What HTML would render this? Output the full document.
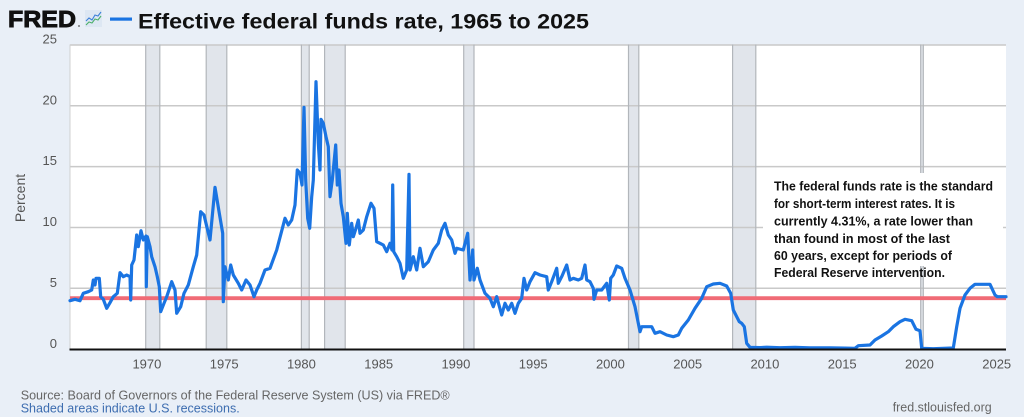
<!DOCTYPE html>
<html>
<head>
<meta charset="utf-8">
<style>
html,body{margin:0;padding:0;background:#e9eff7;}
body{width:1024px;height:417px;overflow:hidden;}
svg{display:block;}
</style>
</head>
<body>
<svg width="1024" height="417" viewBox="0 0 1024 417" xmlns="http://www.w3.org/2000/svg">
  <rect x="0" y="0" width="1024" height="417" fill="#e9eff7"/>

  <!-- Header -->
  <text x="8" y="27" font-family="Liberation Sans, sans-serif" font-weight="bold" font-size="23" fill="#111" stroke="#111" stroke-width="0.9" textLength="68" lengthAdjust="spacingAndGlyphs">FRED</text>
  <circle cx="79" cy="26" r="0.9" fill="#555"/>
  <rect x="85" y="10" width="17" height="17" fill="#dde7f3"/>
  <polyline points="86,21 89,18 92,20 95,15 98,16 101,12" fill="none" stroke="#3b7fd9" stroke-width="1.1"/>
  <polyline points="86,25 89,22 92,23 95,19 98,20 101,16" fill="none" stroke="#4caf6a" stroke-width="1.1"/>
  <rect x="110" y="17.5" width="22" height="3.2" fill="#1a74e2"/>
  <text x="138" y="28.5" font-family="Liberation Sans, sans-serif" font-weight="bold" font-size="21" fill="#111" textLength="451" lengthAdjust="spacingAndGlyphs">Effective federal funds rate, 1965 to 2025</text>

  <!-- Plot area -->
  <rect x="70" y="44.5" width="936" height="305" fill="#ffffff"/>

  <!-- Recession shading -->
  <g fill="#e1e5eb">
    <rect x="145.7" y="44.5" width="14.1" height="305"/>
    <rect x="206.2" y="44.5" width="20.6" height="305"/>
    <rect x="301.4" y="44.5" width="7.8" height="305"/>
    <rect x="324.6" y="44.5" width="20.6" height="305"/>
    <rect x="463.7" y="44.5" width="10.3" height="305"/>
    <rect x="628.5" y="44.5" width="10.3" height="305"/>
    <rect x="732.6" y="44.5" width="23.2" height="305"/>
    <rect x="920.7" y="44.5" width="2.6" height="305"/>
  </g>

  <!-- Grid lines -->
  <g stroke="#c9c9c9" stroke-width="1.5">
    <line x1="70" y1="45" x2="1006" y2="45"/>
    <line x1="70" y1="105.8" x2="1006" y2="105.8"/>
    <line x1="70" y1="166.6" x2="1006" y2="166.6"/>
    <line x1="70" y1="227.5" x2="1006" y2="227.5"/>
    <line x1="70" y1="288.3" x2="1006" y2="288.3"/>
  </g>

  <!-- Recession borders -->
  <g stroke="#b2b6bb" stroke-width="1.2">
    <line x1="145.7" y1="44.5" x2="145.7" y2="349"/><line x1="159.8" y1="44.5" x2="159.8" y2="349"/>
    <line x1="206.2" y1="44.5" x2="206.2" y2="349"/><line x1="226.8" y1="44.5" x2="226.8" y2="349"/>
    <line x1="301.4" y1="44.5" x2="301.4" y2="349"/><line x1="309.2" y1="44.5" x2="309.2" y2="349"/>
    <line x1="324.6" y1="44.5" x2="324.6" y2="349"/><line x1="345.2" y1="44.5" x2="345.2" y2="349"/>
    <line x1="463.7" y1="44.5" x2="463.7" y2="349"/><line x1="474" y1="44.5" x2="474" y2="349"/>
    <line x1="628.5" y1="44.5" x2="628.5" y2="349"/><line x1="638.8" y1="44.5" x2="638.8" y2="349"/>
    <line x1="732.6" y1="44.5" x2="732.6" y2="349"/><line x1="755.8" y1="44.5" x2="755.8" y2="349"/>
    <line x1="920.7" y1="44.5" x2="920.7" y2="349"/><line x1="923.3" y1="44.5" x2="923.3" y2="349"/>
  </g>
  <line x1="70" y1="44.5" x2="70" y2="349" stroke="#d0d0d0" stroke-width="1"/>

  <!-- Annotation box background -->
  <rect x="763" y="173" width="240" height="93" fill="#ffffff"/>

  <!-- Red reference line -->
  <line x1="70" y1="298.2" x2="1006" y2="298.2" stroke="#f06b76" stroke-width="3.8"/>

  <!-- Series -->
  <polyline fill="none" stroke="#1a74e2" stroke-width="3.2" stroke-linejoin="round" stroke-linecap="round" points="
70,300.7 75,299.3 80,300.7 83.3,293.3 88.3,291.7 91.7,290 93.3,280 95,285 96,278.3 99.3,278.3 100.7,296.7 103.3,299.3 106.7,308.3 110,302.7 113.3,296.7 117.3,293.3 120,272.7 123.3,276.7 126.7,275 130,276.7 130.7,300 131.7,265 134,260 136.7,235 138.3,246.7 141,230.7 143.3,240 146,236 146.3,286.7 147.3,236.7 150,246.7 151.7,256.7 155,266.7 157.3,276.7 159.3,286.7 160.7,311.7 164,303.3 166.7,296.7 171.7,281.7 175,290 176.7,313.3 180.7,306.7 184,293.3 188.3,285 193.3,266.7 196.7,255 200.7,211.7 204,215 210,240 215,187.3 219.3,213.3 222.7,233.3 223.3,301.7 225,266.7 228.3,280 230.7,265 233.3,275 238.3,283.3 241.7,290 246,280 250,285 254,296.7 256.7,290 260,283.3 265,270 270,268.3 276.7,250 285,218.3 288.3,225 291.7,220 295,205 297.3,170 300,173.3 302,185 304,107.3 305.7,180 307.7,218.3 309.7,228.3 311.7,196.7 313.3,180 316,81.7 318.3,143.3 320,170 321,119.3 323.3,123.3 326,136.7 328.3,146.7 330,196.7 332.3,180 335.7,145 337.3,185 339,170 341,203.3 343.3,216.7 346,243.3 347.3,213.3 349.3,245 351.7,223.3 353.3,236.7 356,228.3 358.3,220 360,233.3 363.3,230 366.7,216.7 371,203.3 374,208.3 376.7,241.7 383.3,245 386.7,251.7 390,243.3 392,250 392.7,185 393.7,251.7 396.7,256.7 400,263.3 403.3,278.3 406.7,270 409,174.3 410,270 413.3,256.7 416.7,270 420,248.3 423.3,266.7 428.3,261.7 433.3,250 438.3,243.3 441.7,230 445,223.3 448.3,235 451.7,240 455,253.3 456.7,248.3 463.3,250 467.7,233.3 470,280 472.7,250 474,280 477.3,268.3 480,280 485,293.3 490,298.3 493.3,306.7 496.7,296.7 501.7,315 505,303.3 508.3,310 511.7,303.3 515,313.3 518.3,303.3 521.7,298.3 524,278.3 526.7,290 530,281.7 535,272.7 540,275 546.7,276.7 548.3,290 551.7,281.7 556.7,268.3 558.3,283.3 561.7,276.7 566.7,265 570,280 573.3,278.3 578.3,280 581.7,278.3 585,265 586.7,280 590,281.7 593.3,288.3 594,299.3 596.7,290 601.7,290 606.7,283.3 609.3,300 610.7,278.3 613.3,275 616.7,266 621.7,268.3 625,278.3 630,290 635,306.7 640,331.7 641.7,326.7 651.7,326.7 655,333.3 660,331.7 666.7,335 673.3,336.7 678.3,335 681.7,328.3 688.3,320 695,308.3 701.7,298.3 706.7,286.7 713.3,284 720,283.3 726.7,286 730.7,293.3 733.3,310 736.7,316.7 739.3,321.7 741.7,323.3 744.3,326.7 746.7,343.3 750,347.3 760,347.6 766.7,347.2 780,347.7 795,347.4 810,347.9 830,347.8 845,348.1 855,348.3 858.3,345.7 870,345 875,340 881.7,336 888.3,331.7 893.3,326.7 900,321.7 905,319.3 911.7,320.7 916,329.3 920,330.7 921.7,348.3 933.3,348.7 953.3,348 956.7,326.7 960,308.3 965,295 970,288.3 975,284.3 990,284.3 995,295 997.3,296.7 1006,296.7"/>

  <!-- Zero axis -->
  <line x1="69.5" y1="349.5" x2="1006" y2="349.5" stroke="#111" stroke-width="2"/>

  <!-- Annotation text -->
  <g font-family="Liberation Sans, sans-serif" font-weight="bold" font-size="12.5" fill="#111">
    <text x="774" y="190.7" textLength="219" lengthAdjust="spacingAndGlyphs">The federal funds rate is the standard</text>
    <text x="774" y="208.2" textLength="181" lengthAdjust="spacingAndGlyphs">for short-term interest rates. It is</text>
    <text x="774" y="225.7" textLength="199" lengthAdjust="spacingAndGlyphs">currently 4.31%, a rate lower than</text>
    <text x="774" y="243" textLength="176" lengthAdjust="spacingAndGlyphs">than found in most of the last</text>
    <text x="774" y="260.2" textLength="178" lengthAdjust="spacingAndGlyphs">60 years, except for periods of</text>
    <text x="774" y="277.2" textLength="171" lengthAdjust="spacingAndGlyphs">Federal Reserve intervention.</text>
  </g>

  <!-- Y axis labels -->
  <g font-family="Liberation Sans, sans-serif" font-size="13" fill="#555" text-anchor="end">
    <text x="57" y="43.5">25</text>
    <text x="57" y="104.3">20</text>
    <text x="57" y="165.1">15</text>
    <text x="57" y="226">10</text>
    <text x="57" y="286.8">5</text>
    <text x="57" y="348">0</text>
  </g>
  <text transform="translate(25,198) rotate(-90)" font-family="Liberation Sans, sans-serif" font-size="14" fill="#555" text-anchor="middle">Percent</text>

  <!-- X axis labels -->
  <g font-family="Liberation Sans, sans-serif" font-size="13" fill="#555" text-anchor="middle">
    <text x="146.9" y="368.3">1970</text>
    <text x="224.2" y="368.3">1975</text>
    <text x="301.4" y="368.3">1980</text>
    <text x="378.7" y="368.3">1985</text>
    <text x="455.9" y="368.3">1990</text>
    <text x="533.2" y="368.3">1995</text>
    <text x="610.4" y="368.3">2000</text>
    <text x="687.7" y="368.3">2005</text>
    <text x="764.9" y="368.3">2010</text>
    <text x="842.2" y="368.3">2015</text>
    <text x="919.4" y="368.3">2020</text>
    <text x="996.7" y="368.3">2025</text>
  </g>

  <!-- Footer -->
  <text x="20.7" y="399.3" font-family="Liberation Sans, sans-serif" font-size="13" fill="#666" textLength="429" lengthAdjust="spacingAndGlyphs">Source: Board of Governors of the Federal Reserve System (US) via FRED®</text>
  <text x="20.7" y="412.7" font-family="Liberation Sans, sans-serif" font-size="13" fill="#3d6db0" textLength="219" lengthAdjust="spacingAndGlyphs">Shaded areas indicate U.S. recessions.</text>
  <text x="892.7" y="411.7" font-family="Liberation Sans, sans-serif" font-size="13" fill="#666" textLength="99" lengthAdjust="spacingAndGlyphs">fred.stlouisfed.org</text>
</svg>
</body>
</html>
